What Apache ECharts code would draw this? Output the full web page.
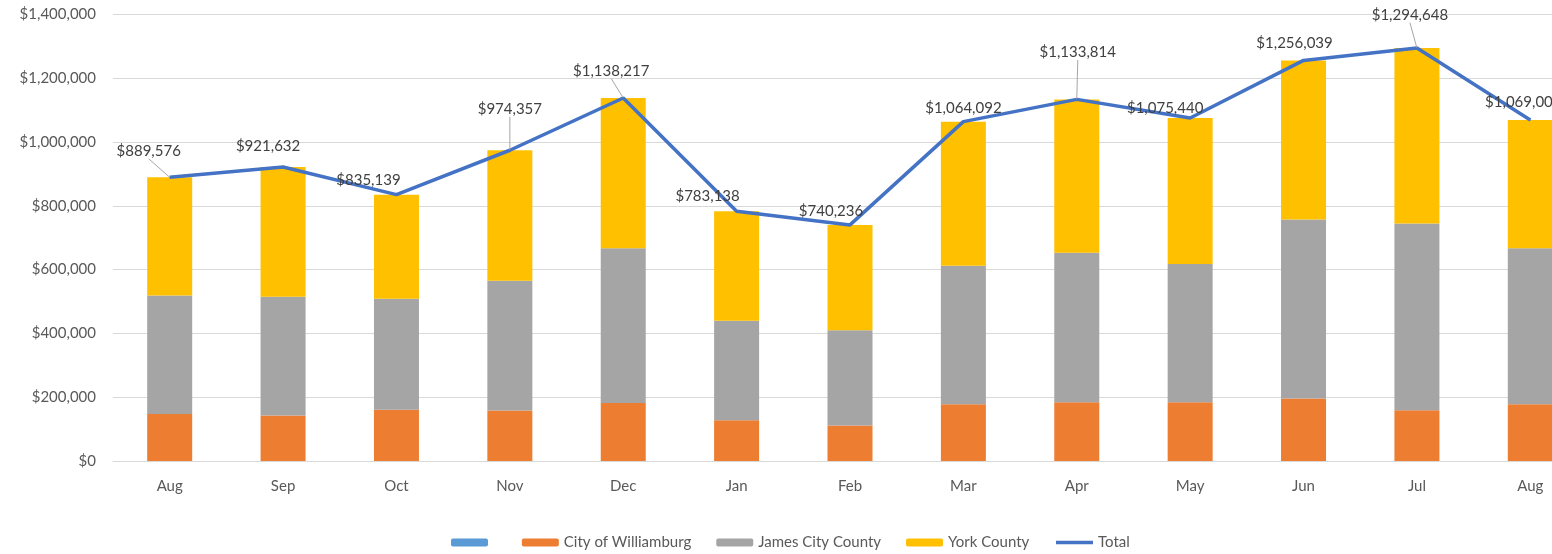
<!DOCTYPE html>
<html>
<head>
<meta charset="utf-8">
<script src="https://cdn.jsdelivr.net/npm/echarts@6/dist/echarts.min.js"></script>
<style>
  html, body { margin: 0; padding: 0; background: #ffffff; }
  #chart { width: 1552px; height: 554px; }
</style>
</head>
<body>
<div id="chart"></div>
<script>
// Monthly revenue by locality
const months = ['Aug', 'Sep', 'Oct', 'Nov', 'Dec', 'Jan', 'Feb', 'Mar', 'Apr', 'May', 'Jun', 'Jul', 'Aug'];
const williamsburg = [147000, 143000, 161000, 158000, 182000, 128000, 111000, 178000, 184000, 184000, 196000, 159000, 178000];
const jamesCity = [372000, 372000, 348000, 407000, 485000, 312000, 299000, 434000, 469000, 434000, 561000, 586000, 489000];
const yorkCounty = [370576, 406632, 326139, 409357, 471217, 343138, 330236, 452092, 480814, 457440, 499039, 549648, 402003];
const totals = [889576, 921632, 835139, 974357, 1138217, 783138, 740236, 1064092, 1133814, 1075440, 1256039, 1294648, 1069003];
const yTicks = { min: 0, max: 1400000, step: 200000 };

// Label nudges for the total line (pixels) and which labels get a leader line
const labelShift = [[-21, -13], [-15, -8], [-28, -1], [0, -28], [-12, -14], [-29, -2], [-19, -1],
                    [0, 0], [1, -34], [-25, 3], [-9, -4], [-7, -20], [-7, -5]];
const withLeader = [0, 3, 4, 8, 11];

const FONT = 'Lato, "Open Sans", sans-serif';

function money(v) {
  return '$' + String(Math.round(v)).replace(/\B(?=(\d{3})+(?!\d))/g, ',');
}

const chart = echarts.init(document.getElementById('chart'), null, { renderer: 'canvas' });

const totalData = totals.map(function (v, i) {
  const item = { value: v };
  if (withLeader.indexOf(i) >= 0) {
    item.labelLine = { show: true };
  }
  return item;
});

chart.setOption({
  backgroundColor: '#ffffff',
  animation: false,
  textStyle: { fontFamily: FONT },
  grid: {
    left: 113,
    right: -35,
    top: 14.5,
    bottom: 93,
    containLabel: false,
    outerBoundsMode: 'none'
  },
  legend: {
    left: 446,
    top: 530,
    itemWidth: 37,
    itemHeight: 8,
    itemGap: 25,
    textStyle: { fontFamily: FONT, fontSize: 15, color: '#595959' },
    data: [' ', 'City of Williamburg', 'James City County', 'York County',
           { name: 'Total', itemStyle: { opacity: 0 }, lineStyle: { width: 3.5 } }]
  },
  xAxis: {
    type: 'category',
    data: months,
    axisLine: { show: true, lineStyle: { color: '#d9d9d9', width: 1 } },
    axisTick: { show: false },
    axisLabel: { color: '#595959', fontSize: 15, fontFamily: FONT, margin: 18, interval: 0 }
  },
  yAxis: {
    type: 'value',
    min: yTicks.min,
    max: yTicks.max,
    interval: yTicks.step,
    axisLine: { show: false },
    axisTick: { show: false },
    splitLine: { lineStyle: { color: '#d9d9d9', width: 1 } },
    axisLabel: { color: '#595959', fontSize: 15, fontFamily: FONT, margin: 17, formatter: money }
  },
  series: [
    {
      name: ' ',
      type: 'bar',
      stack: 'rev',
      itemStyle: { color: '#5b9bd5' },
      data: []
    },
    {
      name: 'City of Williamburg',
      type: 'bar',
      stack: 'rev',
      barWidth: 45,
      itemStyle: { color: '#ed7d31' },
      data: williamsburg
    },
    {
      name: 'James City County',
      type: 'bar',
      stack: 'rev',
      barWidth: 45,
      itemStyle: { color: '#a5a5a5' },
      data: jamesCity
    },
    {
      name: 'York County',
      type: 'bar',
      stack: 'rev',
      barWidth: 45,
      itemStyle: { color: '#ffc000' },
      data: yorkCounty
    },
    {
      name: 'Total',
      type: 'line',
      symbol: 'circle',
      symbolSize: 1,
      showSymbol: true,
      z: 5,
      lineStyle: { color: '#4472c4', width: 3.5 },
      itemStyle: { color: '#4472c4' },
      label: {
        show: true,
        position: 'top',
        distance: 5,
        color: '#404040',
        fontSize: 15,
        fontFamily: FONT,
        formatter: function (p) { return money(p.value); }
      },
      labelLine: {
        show: false,
        lineStyle: { color: '#a6a6a6', width: 1 }
      },
      labelLayout: function (params) {
        const s = labelShift[params.dataIndex] || [0, 0];
        return { dx: s[0], dy: s[1] };
      },
      data: totalData
    }
  ]
});
</script>
</body>
</html>
